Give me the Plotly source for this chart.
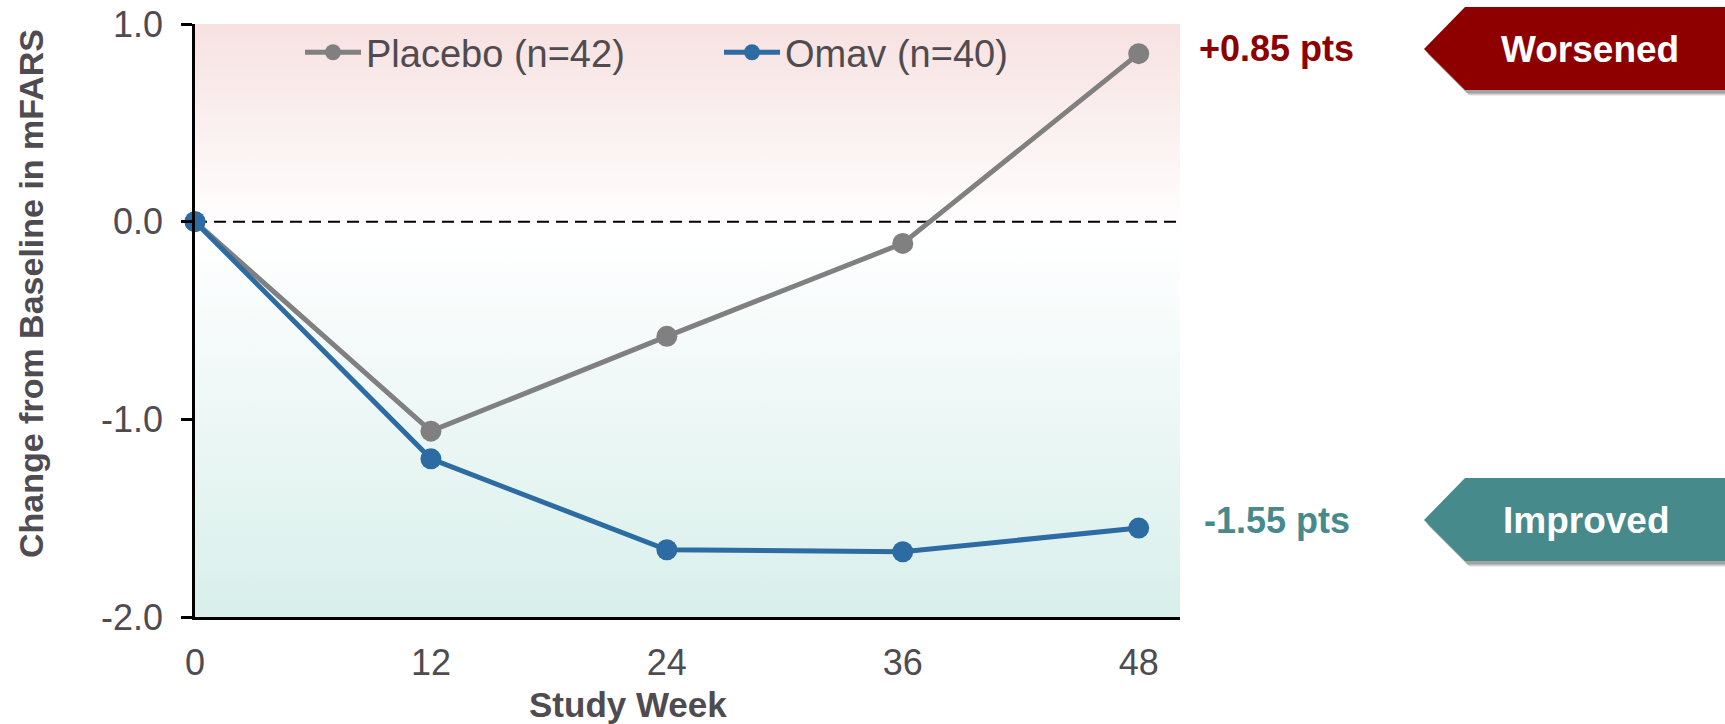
import plotly.graph_objects as go

# Study visits (weeks) and mean change from baseline in mFARS
weeks = [0, 12, 24, 36, 48]
placebo = [0.0, -1.06, -0.58, -0.11, 0.85]
omav = [0.0, -1.20, -1.66, -1.67, -1.55]

series_names = ["Placebo (n=42)", "Omav (n=40)"]
y_ticks = [-2, -1, 0, 1]
y_tick_labels = ["-2.0", "-1.0", "0.0", "1.0"]

X_MAX = 50.1
Y_MIN, Y_MAX = -2.0, 1.0

FONT = "Arial, Liberation Sans, sans-serif"
GRAY_TXT = "#4f4b4f"
PLACEBO_CLR = "#808080"
OMAV_CLR = "#2c6ca3"
RED = "#8e0000"
TEAL = "#468a8b"

# plot area in pixels
W, H = 1725, 724
L, R, T, B = 195, 545, 24, 107
PW, PH = W - L - R, H - T - B


def px(x):
    return (x - L) / PW


def py(y):
    return (H - B - y) / PH


fig = go.Figure()

# gradient backdrop: pink above zero, white at zero, teal toward the bottom
fig.add_trace(go.Scatter(
    x=[0, X_MAX, X_MAX, 0, 0], y=[Y_MIN, Y_MIN, Y_MAX, Y_MAX, Y_MIN],
    mode="lines", line=dict(width=0), fill="toself",
    fillgradient=dict(type="vertical", start=Y_MIN, stop=Y_MAX,
                      colorscale=[[0, "#d8efeb"], [0.64, "#ffffff"], [0.7, "#fefbfb"], [1, "#f7e1e1"]]),
    hoverinfo="skip", showlegend=False,
))

# dashed reference line at zero change
fig.add_trace(go.Scatter(
    x=[0, X_MAX], y=[0, 0], mode="lines",
    line=dict(color="black", width=2, dash="12px,7px"),
    hoverinfo="skip", showlegend=False,
))

for name, vals, clr in [(series_names[0], placebo, PLACEBO_CLR), (series_names[1], omav, OMAV_CLR)]:
    fig.add_trace(go.Scatter(
        x=weeks, y=vals, name=name, mode="lines+markers",
        line=dict(color=clr, width=5),
        marker=dict(color=clr, size=21),
        cliponaxis=False,
    ))

annotations = [
    dict(text="<b>Change from Baseline in mFARS</b>", xref="paper", yref="paper",
         x=px(31), y=py(294), xanchor="center", yanchor="middle", textangle=-90, showarrow=False,
         font=dict(family=FONT, size=34, color=GRAY_TXT)),
    dict(text="<b>Study Week</b>", xref="paper", yref="paper",
         x=px(628), y=py(704), xanchor="center", yanchor="middle", showarrow=False,
         font=dict(family=FONT, size=35, color=GRAY_TXT)),
    dict(text=f"<b>+{placebo[-1]:.2f} pts</b>", xref="paper", yref="y",
         x=px(1197), xanchor="left", yanchor="middle", y=placebo[-1], yshift=5, showarrow=False,
         font=dict(family=FONT, size=36, color=RED)),
    dict(text=f"<b>{omav[-1]:.2f} pts</b>", xref="paper", yref="y",
         x=px(1202), xanchor="left", yanchor="middle", y=omav[-1], yshift=8, showarrow=False,
         font=dict(family=FONT, size=36, color=TEAL)),
    dict(text="<b>Worsened</b>", xref="paper", yref="paper",
         x=px(1590), y=py(49), xanchor="center", yanchor="middle", showarrow=False,
         font=dict(family=FONT, size=37, color="white")),
    dict(text="<b>Improved</b>", xref="paper", yref="paper",
         x=px(1586), y=py(520), xanchor="center", yanchor="middle", showarrow=False,
         font=dict(family=FONT, size=37, color="white")),
]


def badge_path(tip_x, tip_y, top, bot, notch_x, right, dx=0, dy=0):
    pts = [(tip_x, tip_y), (notch_x, top), (right, top), (right, bot), (notch_x, bot)]
    return "M " + " L ".join(f"{px(a + dx):.5f},{py(b + dy):.5f}" for a, b in pts) + " Z"


shapes = []
for tip_y, top, bot, clr in [(49, 7, 90, RED), (520, 478, 561, TEAL)]:
    # soft drop shadow
    for off, alpha in [(6, 0.07), (5, 0.10), (4, 0.14), (3, 0.10)]:
        shapes.append(dict(type="path", xref="paper", yref="paper",
                           path=badge_path(1424, tip_y, top, bot, 1465, W + 10, off - 1, off),
                           fillcolor=f"rgba(0,0,0,{alpha})", line=dict(width=0)))
    shapes.append(dict(type="path", xref="paper", yref="paper",
                       path=badge_path(1424, tip_y, top, bot, 1465, W + 10),
                       fillcolor=clr, line=dict(width=0)))

fig.update_layout(
    width=W, height=H,
    margin=dict(l=L, r=R, t=T, b=B, autoexpand=False),
    paper_bgcolor="white", plot_bgcolor="white",
    font=dict(family=FONT, color=GRAY_TXT),
    showlegend=True,
    legend=dict(orientation="h", x=px(300), y=1.005, xanchor="left", yanchor="top",
                font=dict(family=FONT, size=38, color=GRAY_TXT),
                bgcolor="rgba(0,0,0,0)", itemwidth=56,
                entrywidth=348, entrywidthmode="pixels",
                itemclick=False),
    xaxis=dict(range=[0, X_MAX], tickvals=weeks, ticktext=[str(w) for w in weeks],
               automargin=False,
               showgrid=False, zeroline=False, showline=True, linecolor="black", linewidth=2.5,
               ticks="", tickfont=dict(family=FONT, size=36, color=GRAY_TXT),
               ticklabelstandoff=12),
    yaxis=dict(range=[Y_MIN, Y_MAX], tickvals=y_ticks, ticktext=y_tick_labels,
               automargin=False,
               showgrid=False, zeroline=False, showline=True, linecolor="black", linewidth=2.5,
               ticks="outside", ticklen=11, tickwidth=2.5, tickcolor="black",
               tickfont=dict(family=FONT, size=36, color=GRAY_TXT),
               ticklabelstandoff=11),
    shapes=shapes,
    annotations=annotations,
)

fig.write_html("out.html")
